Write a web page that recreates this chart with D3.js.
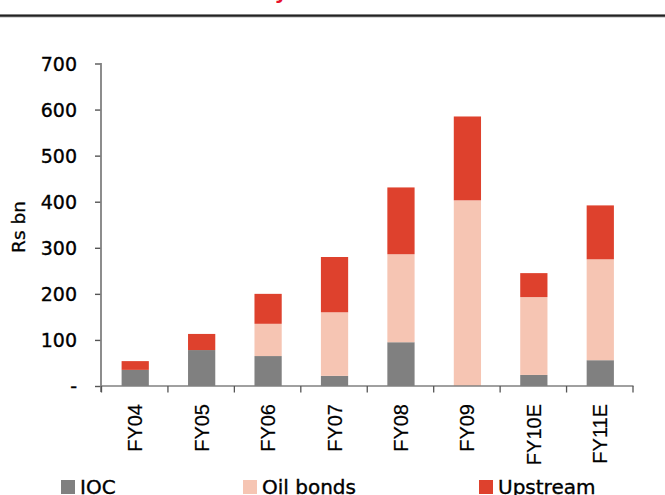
<!DOCTYPE html>
<html><head><meta charset="utf-8">
<script src="https://cdn.jsdelivr.net/npm/d3@7"></script>
<style>body{margin:0;background:#fff}svg{display:block}</style>
</head><body>
<script>
const categories = ["FY04","FY05","FY06","FY07","FY08","FY09","FY10E","FY11E"];
const ioc = [35, 78, 65, 22, 95, 0, 24, 56];
const oilBonds = [0, 0, 70, 138, 191, 403, 169, 219];
const upstream = [19, 35, 65, 120, 145, 182, 52, 117];
const seriesNames = ["IOC", "Oil bonds", "Upstream"];
const yTicks = [0, 100, 200, 300, 400, 500, 600, 700];
const yTickLabels = ["-", "100", "200", "300", "400", "500", "600", "700"];
const colors = ["#808080", "#f6c5b3", "#de412d"];

const W = 665, H = 495;
const svg = d3.select("body").append("svg").attr("width", W).attr("height", H);
const font = "DejaVu Sans, sans-serif";

// title fragment + rule
svg.append("text").attr("x", 281).attr("y", -1).attr("text-anchor", "middle")
  .attr("font-family", font).attr("font-weight", "bold").attr("font-size", 20)
  .attr("fill", "#e8112d").text("y");
svg.append("rect").attr("x", 0).attr("y", 14).attr("width", W).attr("height", 3.4).attr("fill", "#9a9a9a");
svg.append("rect").attr("x", 0).attr("y", 14.8).attr("width", W).attr("height", 1.8).attr("fill", "#222");

const x = d3.scaleBand().domain(categories).range([101.5, 633]).padding(0);
const y = d3.scaleLinear().domain([0, 700]).range([386, 63.5]);

const table = categories.map((c, i) => ({cat: c, "IOC": ioc[i], "Oil bonds": oilBonds[i], "Upstream": upstream[i]}));
const stacked = d3.stack().keys(seriesNames)(table);

const bw = x.bandwidth() * 0.41;
stacked.forEach((s, si) => {
  svg.append("g").selectAll("rect").data(s).join("rect")
    .attr("x", d => x(d.data.cat) + x.bandwidth() / 2 - bw / 2 + 0.5)
    .attr("width", bw)
    .attr("y", d => y(d[1]))
    .attr("height", d => Math.max(0, y(d[0]) - y(d[1])))
    .attr("fill", colors[si]);
});

// Y axis
const yAxis = d3.axisLeft(y).tickValues(yTicks).tickFormat((d, i) => yTickLabels[i]).tickSize(6).tickPadding(18);
const gy = svg.append("g").attr("transform", "translate(101,0)").call(yAxis);
gy.select(".domain").remove();
gy.append("line").attr("x1", 0).attr("x2", 0).attr("y1", 63).attr("y2", 392).attr("stroke", "#808080").attr("stroke-width", 1.8);
gy.selectAll(".tick line").attr("stroke", "#555").attr("stroke-width", 1.4);
gy.selectAll(".tick text").attr("font-family", font).attr("font-size", 19).attr("fill", "#000")
  .attr("stroke", "#000").attr("stroke-width", 0.35).attr("dy", "0.36em");

// X axis
const gx = svg.append("g");
gx.append("line").attr("x1", 101).attr("x2", 633.5).attr("y1", 386).attr("y2", 386).attr("stroke", "#808080").attr("stroke-width", 1.6);
const bounds = categories.map(c => x(c)).concat([x(categories[categories.length - 1]) + x.bandwidth()]);
gx.selectAll("line.tk").data(bounds).join("line").attr("class", "tk")
  .attr("x1", d => d).attr("x2", d => d).attr("y1", 386).attr("y2", 392.5)
  .attr("stroke", "#555").attr("stroke-width", 1.3);
gx.selectAll("text").data(categories).join("text")
  .attr("transform", d => `translate(${x(d) + x.bandwidth() / 2 + 7.5},404) rotate(-90)`)
  .attr("text-anchor", "end")
  .attr("font-family", "Liberation Sans, Arial, sans-serif").attr("font-size", 20).attr("fill", "#000")
  .attr("stroke", "#000").attr("stroke-width", 0.2)
  .text(d => d);

// Y label
svg.append("text").attr("transform", "translate(24.5,227) rotate(-90)").attr("text-anchor", "middle")
  .attr("font-family", font).attr("font-size", 18.5).attr("fill", "#000")
  .attr("stroke", "#000").attr("stroke-width", 0.3).text("Rs bn");

// Legend
const legX = [61, 243, 479];
const lg = svg.append("g");
seriesNames.forEach((n, i) => {
  lg.append("rect").attr("x", legX[i]).attr("y", 480).attr("width", 14).attr("height", 14).attr("fill", colors[i]);
  lg.append("text").attr("x", legX[i] + 19).attr("y", 494).attr("font-family", font).attr("font-size", 20).attr("fill", "#000")
    .attr("stroke", "#000").attr("stroke-width", 0.35).text(n);
});
</script>
</body></html>
